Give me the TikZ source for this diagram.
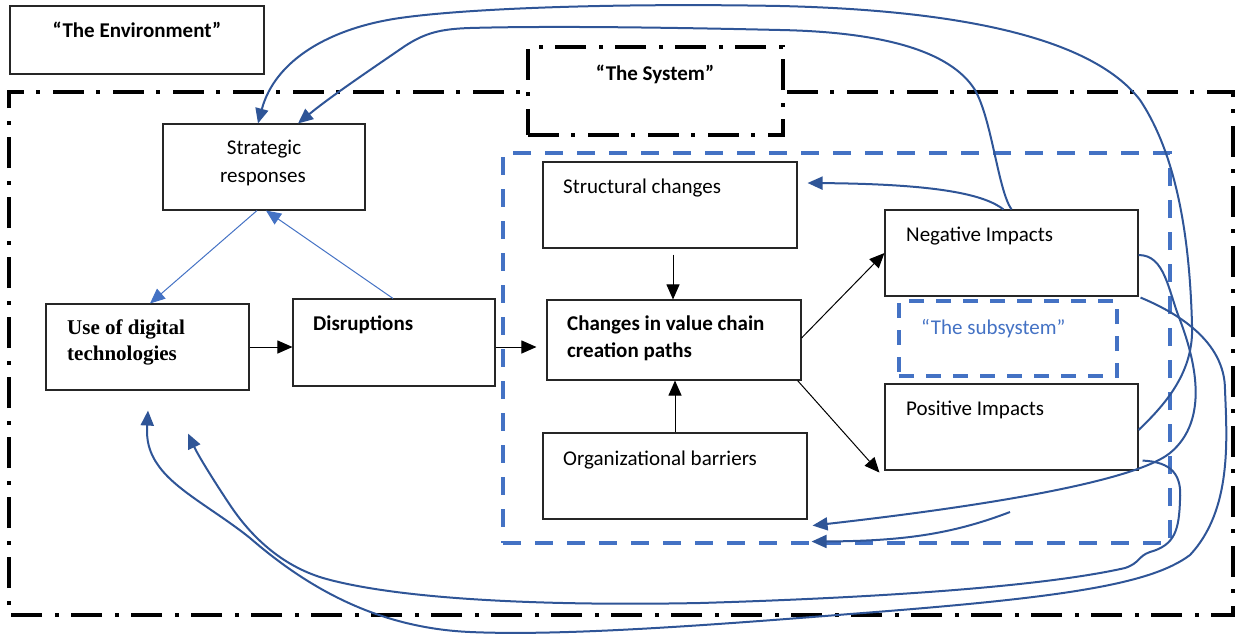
\documentclass[tikz,border=0pt]{standalone}
\usepackage{fontspec}
\setmainfont{Carlito}
\newfontfamily\serifface{Liberation Serif}
\usetikzlibrary{arrows.meta,calc}
\definecolor{flow}{HTML}{2F5597}
\definecolor{accent}{HTML}{4472C4}

\begin{document}
\begin{tikzpicture}[x=1pt,y=-1pt,
  box/.style={draw=black!85, line width=1.1pt, fill=white, inner sep=0pt},
  txtl/.style={inner sep=0pt, anchor=base west, font=\fontsize{21}{26}\selectfont},
  txtc/.style={inner sep=0pt, anchor=base, font=\fontsize{21}{26}\selectfont},
  boldl/.style={txtl, font=\fontsize{21}{26}\selectfont\bfseries},
  boldc/.style={txtc, font=\fontsize{21}{26}\selectfont\bfseries},
  sysline/.style={draw=black, line width=4.5pt, dash pattern=on 31pt off 12pt on 4pt off 13pt},
  subline/.style={draw=accent, line width=4.5pt, dash pattern=on 18pt off 14pt},
  innerline/.style={draw=accent, line width=3.5pt, dash pattern=on 15pt off 12pt},
  plain/.style={-{Triangle[length=15pt,width=13pt]}, draw=black, line width=1pt},
  soft/.style={-{Triangle[length=15pt,width=13pt]}, draw=accent, line width=1pt},
  feedback/.style={-{Triangle[length=15pt,width=13pt]}, draw=flow, line width=2pt},
]
\useasboundingbox (0,0) rectangle (1238,637);

% the environment label
\node[box, minimum width=254pt, minimum height=68pt] (env) at (137,40) {};
\node[boldc] (envT) at (137,37) {“The Environment”};

% the system frame, open where its label box sits
\draw[sysline] (787,92) -- (1233,92) -- (1233,615) -- (9,615) -- (9,92) -- (520,92);
\node[sysline, fill=white, line width=4pt, minimum width=255pt, minimum height=88pt] (sys) at (655.5,91) {};
\node[boldc] (sysT) at (655,80) {“The System”};

% the value-chain subsystem
\node[subline, minimum width=667pt, minimum height=390pt] (sub) at (836.5,348) {};
\node[innerline, minimum width=218pt, minimum height=75pt] (subsub) at (1008,338.5) {};
\node[txtl, text=accent] (subsubT) at (921,334) {“The subsystem”};

% boxes
\node[box, minimum width=202pt, minimum height=86pt] (strat) at (264,167) {};
\node[txtc] (stratT1) at (264,154) {Strategic};
\node[txtc] (stratT2) at (263,182) {responses};

\node[box, minimum width=203pt, minimum height=86pt] (use) at (147.5,347) {};
\node[txtl, font=\fontsize{21}{26}\selectfont\serifface\bfseries] (useT1) at (67,334) {Use of digital};
\node[txtl, font=\fontsize{21}{26}\selectfont\serifface\bfseries] (useT2) at (67,360) {technologies};

\node[box, minimum width=202pt, minimum height=87pt] (disr) at (394,342.5) {};
\node[boldl] (disrT) at (313,330) {Disruptions};

\node[box, minimum width=254pt, minimum height=80pt] (chg) at (674,340) {};
\node[boldl] (chgT1) at (567,330) {Changes in value chain};
\node[boldl] (chgT2) at (567,357) {creation paths};

\node[box, minimum width=254pt, minimum height=86pt] (struct) at (670,205) {};
\node[txtl] (structT) at (563,193) {Structural changes};

\node[box, minimum width=264pt, minimum height=86pt] (org) at (675,476) {};
\node[txtl] (orgT) at (563,465) {Organizational barriers};

\node[box, minimum width=253pt, minimum height=86pt] (neg) at (1011.5,253) {};
\node[txtl] (negT) at (906,241) {Negative Impacts};

\node[box, minimum width=253pt, minimum height=86pt] (pos) at (1011.5,427) {};
\node[txtl] (posT) at (906,415) {Positive Impacts};

% main flow
\draw[plain] (use.east) -- (use.east -| disr.west);
\draw[plain, shorten >=10pt] (disr.east |- 0,347) -- (chg.west |- 0,347);
\draw[plain, shorten <=6pt] (673,0 |- struct.south) -- (673,0 |- chg.north);
\draw[plain] (org.north) -- (org.north |- chg.south);
\draw[plain] ([yshift=2pt]chg.east) -- (neg.west);
\draw[plain] ([xshift=-4pt]chg.south east) -- ([xshift=-5pt,yshift=-2pt]pos.south west);

% strategic loop
\draw[soft] ([xshift=-7pt]strat.south) -- ([xshift=2.5pt]use.north);
\draw[soft] ([xshift=-1pt]disr.north) -- ([xshift=2pt]strat.south);

% feedback from the impacts
\draw[feedback] (neg.north) .. controls (998,190) and (992,120) .. (975,90)
  .. controls (950,50) and (880,32) .. (780,30)
  .. controls (650,27) and (540,26) .. (470,28)
  .. controls (440,29) and (425,33) .. (405,46)
  .. controls (370,70) and (330,97) .. ([xshift=34pt]strat.north);

\draw[feedback] ($(pos.east)+(0,3)$) .. controls (1168,402) and (1194,370) .. (1192,325)
  .. controls (1190,250) and (1180,160) .. (1140,100)
  .. controls (1090,35) and (950,10) .. (780,6)
  .. controls (620,3) and (470,8) .. (400,18)
  .. controls (330,28) and (275,60) .. ([xshift=-6pt]strat.north);

\draw[feedback] ([xshift=-8pt]neg.north) .. controls (985,195) and (940,184) .. ($(struct.east)+(10,-22)$);

\draw[feedback] ($(neg.east)+(0,2)$) .. controls (1165,255) and (1168,290) .. (1180,320)
  .. controls (1195,360) and (1210,420) .. (1170,453)
  .. controls (1130,485) and (950,510) .. ($(org.south east)+(5,6)$);

\coordinate (gstart) at (1010,512);
\draw[feedback] (gstart) .. controls (950,535) and (900,541) .. ($(org.south east)+(4,22)$);

\draw[feedback] ($(neg.south east)+(2,1)$) .. controls (1175,312) and (1225,340) .. (1225,390)
  .. controls (1227,440) and (1232,510) .. (1190,555)
  .. controls (1150,585) and (1060,598) .. (850,614)
  .. controls (700,626) and (560,636) .. (470,632)
  .. controls (380,628) and (310,590) .. (250,538)
  .. controls (215,510) and (175,490) .. (158,465)
  .. controls (145,447) and (147,430) .. ($(use.south)+(0.5,20)$);

\draw[feedback] ($(pos.south east)+(4,-10)$) .. controls (1172,462) and (1182,475) .. (1180,500)
  .. controls (1179,530) and (1175,545) .. (1150,552)
  .. controls (1138,556) and (1140,563) .. (1125,568)
  .. controls (1050,585) and (900,597) .. (700,603)
  .. controls (550,606) and (400,600) .. (323,578)
  .. controls (280,565) and (250,535) .. (230,505)
  .. controls (212,478) and (198,455) .. ($(use.south)+(40.5,43)$);
\end{tikzpicture}
\end{document}
